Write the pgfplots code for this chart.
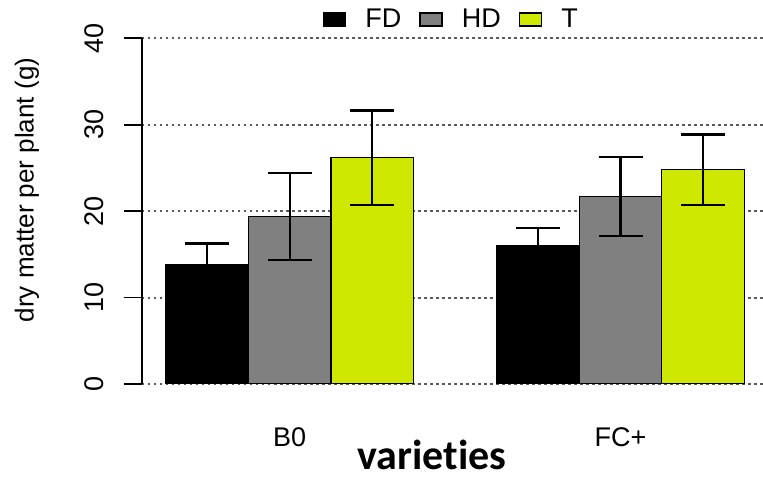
\documentclass[border=0pt]{standalone}
\usepackage{fontspec}
\setmainfont{Liberation Sans}
\newfontfamily\calibri[Ligatures=NoCommon]{Carlito}
\usepackage{pgfplots}
\pgfplotsset{compat=1.18}
\definecolor{hdgray}{RGB}{128,128,128}
\definecolor{tyellow}{RGB}{206,232,0}
\definecolor{gridc}{RGB}{90,90,90}
\begin{document}
\begin{tikzpicture}
\begin{axis}[
  scale only axis, width=621pt, height=345.7pt,
  xmin=0, xmax=7.527, ymin=0, ymax=40,
  axis y line*=left, axis x line*=bottom,
  x axis line style={draw=none},
  y axis line style={line width=1.6pt, black},
  ytick={0,10,20,30,40},
  ytick style={line width=1.6pt, black},
  tick align=outside, major tick length=18pt,
  xtick={1.79,5.80}, xticklabels={B0,FC+},
  xtick style={draw=none},
  /pgf/number format/assume math mode=true,
  tick label style={font=\fontsize{27}{30}\selectfont},
  yticklabel style={rotate=90, anchor=south},
  yticklabel shift=17pt,
  xticklabel style={anchor=base, yshift=-45pt},
  ymajorgrids,
  grid style={gridc, line width=2pt, dash pattern=on 2.5pt off 3.5pt},
  ylabel={dry matter per plant (g)},
  ylabel style={at={(axis description cs:-0.1852,0.561)}, anchor=center, font=\fontsize{26}{30}\selectfont},
  xlabel={varieties},
  xlabel style={at={(axis description cs:0.467,0)}, anchor=base, inner sep=0pt, yshift=-86pt, font=\calibri\bfseries\fontsize{42}{44}\selectfont},
  ybar, bar width=1, bar shift=0pt,
  legend columns=3,
  legend image code/.code={\draw[#1, line width=1.5pt] (0pt,-6.5pt) rectangle (22pt,6.5pt);},
  legend style={at={(0.498,1)}, anchor=center, yshift=19pt, draw=none, fill=none,
    font=\fontsize{27}{30}\selectfont, column sep=4pt,
    /tikz/every odd column/.append style={column sep=17pt},
    /tikz/every even column/.append style={column sep=16pt}},
  error bars/y dir=both, error bars/y explicit,
  error bars/error bar style={line width=2.2pt, black},
  error bars/error mark options={rotate=90, mark size=22pt, line width=2.2pt, black},
]
\addplot[fill=black, draw=black, line width=1.2pt] coordinates {(0.79,13.76) +- (0,2.5) (4.80,16.07) +- (0,1.96)};
\addplot[fill=hdgray, draw=black, line width=1.2pt] coordinates {(1.79,19.36) +- (0,5.05) (5.80,21.68) +- (0,4.56)};
\addplot[fill=tyellow, draw=black, line width=1.2pt] coordinates {(2.79,26.2) +- (0,5.45) (6.80,24.8) +- (0,4.07)};
\legend{FD,HD,T}
\coordinate (O) at (rel axis cs:0,0);
\end{axis}
\pgfresetboundingbox
\path[use as bounding box] ([shift={(-142pt,-94pt)}]O) rectangle ++(763pt,478pt);
\end{tikzpicture}
\end{document}
